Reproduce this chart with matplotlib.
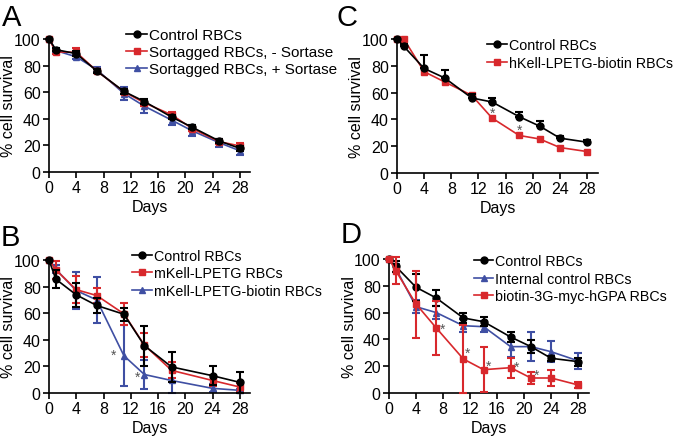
import numpy as np
import matplotlib
matplotlib.use("Agg")
import matplotlib.pyplot as plt
from matplotlib.lines import Line2D

plt.rcParams['font.family'] = ['Liberation Sans', 'DejaVu Sans']

RED = '#d8282c'
BLUE = '#3f4fa3'
BLACK = 'black'

# Panel A
days_a = [0, 1, 4, 7, 11, 14, 18, 21, 25, 28]
ctrl_a = [100, 92, 89, 76, 60.6, 53, 41.3, 33.7, 23.3, 17.8]
ctrl_a_err = [0, 1, 2, 1.5, 2, 2, 1.5, 1.5, 1.5, 2]
minus_a = [100, 90.3, 90, 76, 60.4, 52, 43, 32.7, 22.8, 19.6]
minus_a_err = [0, 1.5, 3, 1.5, 2, 2, 2, 2, 2, 2]
plus_a = [100, 91.3, 86.6, 77, 59, 49.5, 39, 31, 22, 16]
plus_a_err = [0, 1.5, 2, 2, 5, 5, 4, 4, 3, 3]

# Panel B
days_b = [0, 1, 4, 7, 11, 14, 18, 24, 28]
ctrl_b = [100, 85.6, 73.8, 65.8, 59.2, 35.6, 19.6, 13, 8]
ctrl_b_err = [0, 7, 9, 6, 5, 15, 11, 7, 8]
mk_b = [100, 92.6, 77.7, 73.3, 59.5, 36, 17, 9.4, 4.5]
mk_b_err = [0, 7, 10, 6, 8, 9, 6, 4, 3]
mkb_b = [100, 93, 77, 70, 28, 13.9, 9.4, 3.5, 2]
mkb_b_err = [0, 3, 14, 17, 23, 11, 9.4, 3, 1]
star_b = [(9.5, 28.7), (13.0, 11.9)]

# Panel C
days_c = [0, 1, 4, 7, 11, 14, 18, 21, 24, 28]
ctrl_c = [100, 94.5, 78, 71, 56, 53, 42, 35, 26, 23]
ctrl_c_err = [0, 1.5, 10, 6, 3, 3, 3.5, 3.5, 1.5, 2]
hk_c = [100, 100, 75.6, 68, 58, 41, 28, 25.4, 19, 16]
star_c = [(14, 45), (18, 32)]

# Panel D
days_d = [0, 1, 4, 7, 11, 14, 18, 21, 24, 28]
ctrl_d = [100, 94.5, 78.9, 70.9, 56, 53.2, 41.8, 34.6, 25.9, 23.4]
ctrl_d_err = [0, 4, 10, 6, 3.5, 3.5, 4, 5, 2, 3]
int_d = [100, 93, 64.4, 60, 50.2, 49.5, 34.6, 34.6, 30.8, 24]
int_d_err = [0, 3, 5, 5, 5, 4, 8, 11, 8, 6]
bio_d = [100, 91.3, 66.4, 48.5, 25.4, 17.4, 18.9, 11.2, 11.2, 6]
bio_d_err = [0, 10, 25, 20, 25.4, 17, 7.5, 4.5, 6, 2]
star_d = [(7.9, 47.8), (11.6, 29.9), (14.7, 20.4), (18.9, 19.9), (21.9, 13.4)]

W, H = 676, 439
fig = plt.figure(figsize=(W / 100, H / 100), dpi=100)

STYLE = {
    'k': dict(color=BLACK, marker='o', ms=5),
    'r': dict(color=RED, marker='s', ms=4.5),
    'b': dict(color=BLUE, marker='^', ms=4),
}


def make_ax(left, right, top, bottom, xmax):
    ax = fig.add_axes([left / W, 1 - bottom / H, (right - left) / W, (bottom - top) / H])
    ax.set_xlim(0, xmax)
    ax.set_ylim(0, 100)
    ax.spines['top'].set_visible(False)
    ax.spines['right'].set_visible(False)
    for s in ('left', 'bottom'):
        ax.spines[s].set_linewidth(1.2)
    ax.set_xticks(range(0, 29, 4))
    ax.set_yticks(range(0, 101, 20))
    ax.tick_params(direction='out', length=4, width=1.2, labelsize=11.5, pad=2)
    ax.set_xlabel('Days', fontsize=11.5, labelpad=3)
    ax.set_ylabel('% cell survival', fontsize=11.5, va='center')
    ax.yaxis.set_label_coords(-0.2, 0.5)
    return ax


def series(ax, x, y, err, key, z=2):
    ax.errorbar(x, y, yerr=err, lw=1.2, elinewidth=1.5, capsize=3, capthick=1.5,
                zorder=z, clip_on=False, **STYLE[key])


def legend(ax, x, y, items, fs=10.3, sp=0.25):
    handles = [Line2D([], [], lw=1.2, **STYLE[k]) for k, _ in items]
    labels = [t for _, t in items]
    ax.legend(handles, labels, loc='upper left', bbox_to_anchor=(x, y), frameon=False,
              fontsize=fs, handlelength=1.35, handletextpad=0.15,
              labelspacing=sp, borderaxespad=0, borderpad=0)


def stars(ax, pts):
    for sx, sy in pts:
        ax.text(sx, sy, '*', color='#555555', fontsize=10, ha='center', va='center')


# A
ax = make_ax(49, 250, 40, 173, 29.5)
series(ax, days_a, plus_a, plus_a_err, 'b')
series(ax, days_a, minus_a, minus_a_err, 'r')
series(ax, days_a, ctrl_a, ctrl_a_err, 'k', z=3)
legend(ax, 0.385, 1.08, [('k', 'Control RBCs'), ('r', 'Sortagged RBCs, - Sortase'),
                         ('b', 'Sortagged RBCs, + Sortase')], fs=11, sp=0.2)

# C
ax = make_ax(397, 598, 40, 174, 29.6)
ax.errorbar(days_c, ctrl_c, yerr=[np.zeros(len(ctrl_c)), ctrl_c_err], lw=1.2,
            elinewidth=1.5, capsize=3, capthick=1.5, zorder=3, clip_on=False, **STYLE['k'])
ax.plot(days_c, hk_c, lw=1.2, zorder=2, clip_on=False, **STYLE['r'])
stars(ax, star_c)
legend(ax, 0.45, 1.005, [('k', 'Control RBCs'), ('r', 'hKell-LPETG-biotin RBCs')])

# B
ax = make_ax(49, 250, 261, 394, 29.5)
series(ax, days_b, mkb_b, mkb_b_err, 'b')
series(ax, days_b, mk_b, mk_b_err, 'r')
series(ax, days_b, ctrl_b, ctrl_b_err, 'k', z=3)
stars(ax, star_b)
legend(ax, 0.415, 1.085, [('k', 'Control RBCs'), ('r', 'mKell-LPETG RBCs'),
                          ('b', 'mKell-LPETG-biotin RBCs')])

# D
ax = make_ax(389, 589, 260, 394, 29.6)
series(ax, days_d, int_d, int_d_err, 'b')
series(ax, days_d, ctrl_d, ctrl_d_err, 'k', z=3)
series(ax, days_d, bio_d, bio_d_err, 'r', z=4)
stars(ax, star_d)
legend(ax, 0.425, 1.035, [('k', 'Control RBCs'), ('b', 'Internal control RBCs'),
                          ('r', 'biotin-3G-myc-hGPA RBCs')])

# panel letters
for letter, x, y in [('A', 2, 26), ('C', 337, 26), ('B', 1, 246), ('D', 341, 243)]:
    fig.text(x / W, 1 - y / H, letter, fontsize=21, ha='left', va='baseline')

fig.savefig('out.png', dpi=100)
